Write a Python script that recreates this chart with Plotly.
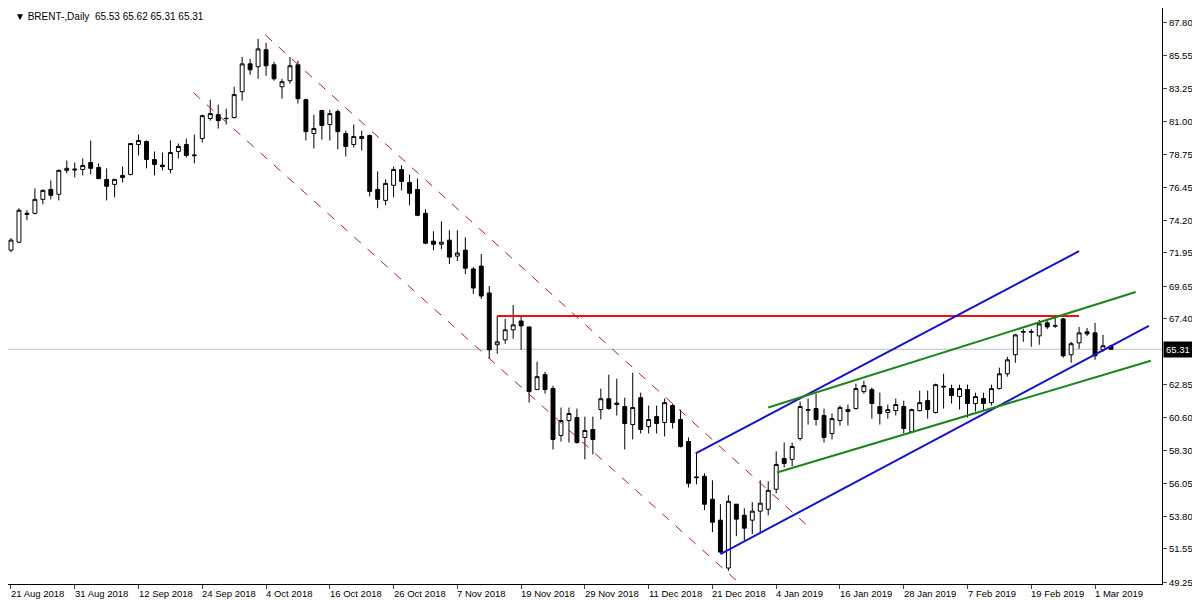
import plotly.graph_objects as go

# daily OHLC (bar index 0 = 21 Aug 2018)
opens = [72.14, 72.69, 74.60, 74.68, 75.64, 76.33, 75.99, 77.64, 77.66, 77.70,
         78.18, 77.84, 77.02, 76.67, 77.29, 77.36, 79.42, 79.63, 78.39, 78.00,
         77.70, 78.94, 79.42, 78.65, 79.83, 81.21, 81.48, 81.20, 81.28, 83.06,
         84.98, 84.78, 85.95, 84.92, 83.40, 83.82, 84.92, 82.51, 80.18, 81.76,
         80.80, 81.69, 80.18, 79.42, 79.83, 80.04, 76.33, 75.57, 76.61, 77.70,
         76.81, 76.33, 74.68, 72.76, 72.55, 72.83, 71.73, 72.14, 70.84, 71.04,
         69.19, 65.62, 65.96, 66.65, 67.26, 66.85, 62.53, 63.56, 62.60, 59.37,
         60.40, 60.60, 59.23, 59.78, 61.15, 61.90, 61.50, 61.36, 60.12, 61.97,
         59.98, 60.67, 60.26, 61.43, 60.47, 58.95, 56.45, 56.55, 54.97, 53.53,
         50.23, 54.63, 53.87, 53.53, 54.15, 54.28, 55.66, 57.78, 57.72, 59.16,
         61.10, 61.22, 60.74, 59.50, 60.40, 61.02, 61.22, 62.39, 62.53, 61.36,
         60.95, 61.08, 61.36, 59.64, 61.08, 61.77, 60.95, 62.70, 62.60, 62.05,
         62.53, 61.57, 61.91, 61.63, 62.60, 63.62, 64.93, 66.48, 66.48, 66.23,
         67.13, 66.90, 67.40, 64.93, 65.75, 66.51, 66.44, 65.27, 65.53]
highs = [72.97, 75.03, 74.89, 76.40, 76.33, 76.95, 77.70, 78.32, 78.18, 78.46,
         79.70, 78.12, 77.78, 77.02, 77.91, 79.49, 80.11, 79.70, 78.94, 78.87,
         79.70, 79.49, 79.83, 80.11, 81.48, 82.51, 82.17, 81.89, 83.40, 85.46,
         85.33, 86.70, 86.43, 85.12, 83.95, 85.46, 85.19, 82.58, 81.48, 81.82,
         81.82, 81.82, 80.38, 80.80, 80.38, 80.11, 77.57, 77.02, 77.91, 77.98,
         77.36, 77.08, 74.96, 73.44, 74.13, 73.51, 73.51, 73.03, 70.97, 71.87,
         69.67, 67.61, 67.40, 68.36, 67.54, 66.85, 64.45, 63.76, 62.80, 61.29,
         61.29, 61.22, 60.67, 60.67, 62.60, 63.56, 63.28, 61.97, 63.69, 62.32,
         61.43, 61.43, 61.91, 61.57, 61.15, 59.23, 58.13, 56.76, 56.28, 54.63,
         55.25, 54.63, 54.35, 54.77, 56.28, 56.21, 58.27, 58.88, 58.88, 61.70,
         61.91, 62.25, 61.22, 60.88, 61.43, 61.50, 62.94, 63.14, 62.67, 62.32,
         61.50, 61.91, 61.77, 61.22, 62.46, 62.46, 62.94, 63.62, 62.87, 62.87,
         62.87, 62.32, 62.32, 62.87, 64.04, 64.79, 66.37, 66.71, 66.71, 67.33,
         67.40, 67.68, 67.47, 65.82, 66.85, 66.78, 67.13, 66.30, 65.62]
lows = [72.00, 72.62, 74.20, 74.60, 75.30, 75.64, 75.57, 77.43, 77.15, 77.29,
        77.36, 77.02, 75.57, 75.78, 76.81, 77.29, 78.67, 77.78, 77.29, 77.64,
        77.43, 78.46, 78.53, 78.12, 79.56, 81.07, 80.52, 80.80, 81.21, 82.44,
        84.23, 83.95, 84.16, 83.82, 82.58, 83.61, 82.24, 79.70, 79.15, 79.76,
        79.70, 79.08, 78.60, 79.22, 79.01, 75.85, 75.03, 75.23, 75.78, 76.26,
        75.23, 74.48, 72.55, 72.14, 72.21, 71.18, 71.39, 70.49, 69.12, 68.78,
        64.65, 64.99, 65.69, 66.03, 65.27, 61.63, 62.53, 62.25, 58.40, 58.95,
        58.88, 58.81, 57.72, 58.06, 60.47, 61.15, 60.74, 58.40, 59.09, 59.50,
        59.50, 59.50, 59.30, 59.85, 58.54, 55.79, 56.00, 54.22, 52.70, 51.26,
        50.03, 52.43, 52.15, 52.57, 52.63, 53.87, 55.38, 57.17, 57.24, 59.02,
        60.12, 60.05, 58.88, 59.09, 60.05, 60.05, 61.15, 62.25, 60.53, 60.12,
        60.53, 60.74, 59.50, 59.57, 61.02, 60.53, 60.88, 61.22, 61.57, 61.15,
        60.60, 61.02, 61.08, 61.43, 62.53, 63.42, 64.38, 65.82, 65.48, 65.62,
        66.71, 66.78, 64.72, 64.38, 65.34, 66.23, 64.58, 65.14, 65.31]
closes = [72.83, 74.89, 74.68, 75.64, 76.26, 75.92, 77.64, 77.78, 77.72, 77.98,
          77.78, 77.08, 76.54, 77.02, 77.15, 79.49, 79.70, 78.39, 78.05, 77.90,
          78.87, 79.29, 78.67, 78.69, 81.41, 81.55, 81.07, 81.22, 82.86, 84.98,
          84.57, 86.01, 84.85, 83.95, 83.75, 84.85, 82.58, 80.31, 80.52, 80.73,
          81.55, 80.31, 79.29, 79.97, 79.97, 76.19, 75.64, 76.74, 77.70, 76.88,
          76.06, 74.54, 72.62, 72.55, 72.69, 71.66, 71.94, 70.90, 69.53, 68.98,
          65.27, 65.82, 66.65, 66.99, 66.92, 62.39, 63.42, 62.53, 59.09, 60.40,
          60.88, 58.88, 59.71, 59.09, 61.90, 61.22, 61.60, 60.19, 61.29, 59.78,
          60.47, 60.19, 61.63, 60.26, 58.61, 56.07, 56.50, 54.63, 53.39, 51.33,
          54.83, 53.60, 52.98, 54.15, 54.70, 55.59, 57.37, 57.44, 58.61, 61.36,
          61.15, 60.47, 59.23, 60.53, 61.29, 61.15, 62.60, 62.80, 61.57, 60.88,
          61.15, 61.50, 59.85, 61.15, 61.63, 61.15, 62.87, 62.75, 62.12, 62.60,
          61.57, 62.05, 61.57, 62.60, 63.62, 64.58, 66.30, 66.53, 66.53, 67.06,
          66.85, 66.94, 64.86, 65.69, 66.44, 66.37, 64.86, 65.55, 65.31]

date_labels = ["21 Aug 2018", "31 Aug 2018", "12 Sep 2018", "24 Sep 2018", "4 Oct 2018",
               "16 Oct 2018", "26 Oct 2018", "7 Nov 2018", "19 Nov 2018", "29 Nov 2018",
               "11 Dec 2018", "21 Dec 2018", "4 Jan 2019", "16 Jan 2019", "28 Jan 2019",
               "7 Feb 2019", "19 Feb 2019", "1 Mar 2019"]
date_idx = list(range(0, 137, 8))
price_ticks = [87.80, 85.55, 83.25, 81.00, 78.75, 76.45, 74.20, 71.95, 69.65,
               67.40, 62.85, 60.60, 58.30, 56.05, 53.80, 51.55, 49.25]
last_price = 65.31

# trend lines: (x0, y0, x1, y1, colour, width, dash)
trendlines = [
    (31.9, 86.98, 100.25, 52.98, "#b0202a", 1, "dash"),
    (22.9, 82.99, 91.5, 49.13, "#b0202a", 1, "dash"),
    (61, 67.61, 134, 67.61, "#ee1111", 2, "solid"),
    (85.9, 58.13, 134.0, 72.07, "#1515c8", 2, "solid"),
    (89.0, 51.19, 142.75, 66.92, "#1515c8", 2, "solid"),
    (95.0, 61.29, 141.1, 69.26, "#1e841e", 2, "solid"),
    (96.1, 56.82, 143.0, 64.52, "#1e841e", 2, "solid"),
]

FONT = "Liberation Sans"

idx = list(range(len(opens)))
fig = go.Figure()
fig.add_trace(go.Candlestick(
    x=idx, open=opens, high=highs, low=lows, close=closes,
    increasing=dict(line=dict(color="black", width=1), fillcolor="white"),
    decreasing=dict(line=dict(color="black", width=1), fillcolor="black"),
    whiskerwidth=0, showlegend=False, hoverinfo="skip"))

shapes = [dict(type="line", xref="paper", x0=0, x1=1, y0=last_price, y1=last_price,
               line=dict(color="#c0c0c0", width=1), layer="below")]
for x0, y0, x1, y1, col, w, dash in trendlines:
    shapes.append(dict(type="line", x0=x0, y0=y0, x1=x1, y1=y1,
                       line=dict(color=col, width=w, dash=dash)))

annotations = [dict(x=i, y=0, xref="x", yref="paper", text=t, showarrow=False,
                    xanchor="left", yanchor="top", yshift=-2, xshift=-2,
                    font=dict(size=9.5))
               for i, t in zip(date_idx, date_labels)]
annotations.append(dict(x=0.004, y=0.998, xref="paper", yref="paper", showarrow=False,
                        text="▼ BRENT-,Daily  65.53 65.62 65.31 65.31",
                        xanchor="left", yanchor="top", font=dict(size=10)))
annotations.append(dict(x=1.0, y=last_price, xref="paper", yref="y", showarrow=False,
                        text="65.31", xanchor="left", bgcolor="black",
                        font=dict(size=9.5, color="white"), borderpad=2, xshift=1))

fig.update_layout(
    width=1200, height=600, margin=dict(l=0, r=46, t=0, b=24),
    plot_bgcolor="white", paper_bgcolor="white",
    font=dict(family=FONT, size=9.5, color="black"),
    shapes=shapes, annotations=annotations,
    xaxis=dict(range=[-0.375, 144.4], rangeslider=dict(visible=False), showgrid=False,
               zeroline=False, tickvals=date_idx, ticktext=[""] * len(date_idx),
               ticks="outside", ticklen=4, showline=True, linecolor="black",
               mirror=True, fixedrange=True),
    yaxis=dict(range=[49.13, 88.83], side="right", showgrid=False, zeroline=False,
               tickvals=price_ticks, ticktext=[f"{v:.2f}" for v in price_ticks],
               ticks="outside", ticklen=4, showline=True, linecolor="black",
               mirror=True, fixedrange=True, automargin=False),
)

fig.write_html("out.html")
